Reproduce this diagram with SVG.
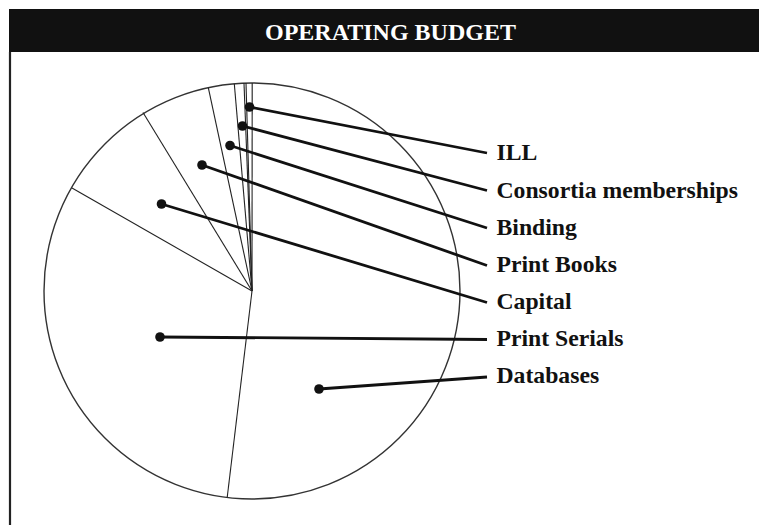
<svg xmlns="http://www.w3.org/2000/svg" width="759" height="525" viewBox="0 0 759 525">
  <style>
    .title { font-family: "Liberation Serif", "Times New Roman", serif; font-weight: bold; font-size: 24px; fill: #ffffff; }
    .label { font-family: "Liberation Serif", "Times New Roman", serif; font-weight: bold; font-size: 23.7px; fill: #111111; }
    .rim { fill: #ffffff; stroke: #333333; stroke-width: 1.4; }
    .edge { stroke: #222222; stroke-width: 1.1; fill: none; }
    .leader { stroke: #111111; stroke-width: 2.8; fill: none; stroke-linecap: butt; }
    .dot { fill: #111111; }
  </style>

  <rect x="0" y="0" width="759" height="525" fill="#ffffff"/>

  <!-- frame: header bar and left rule -->
  <g id="frame">
    <rect x="9" y="9" width="760" height="43" fill="#111111"/>
    <line x1="10" y1="52" x2="10" y2="525" stroke="#222222" stroke-width="2.2"/>
    <text class="title" x="390.5" y="39.5" text-anchor="middle">OPERATING BUDGET</text>
  </g>

  <!-- pie chart -->
  <g id="pie">
    <circle class="rim" cx="252" cy="291" r="208"/>
    <line class="edge" x1="252" y1="291" x2="252.2" y2="83"/>
    <line class="edge" x1="252" y1="291" x2="246" y2="83.1"/>
    <line class="edge" x1="252" y1="291" x2="244" y2="83.2"/>
    <line class="edge" x1="252" y1="291" x2="234.3" y2="83.7"/>
    <line class="edge" x1="252" y1="291" x2="208.3" y2="87.7"/>
    <line class="edge" x1="252" y1="291" x2="143" y2="112.5"/>
    <line class="edge" x1="252" y1="291" x2="72" y2="188"/>
    <line class="edge" x1="252" y1="291" x2="227.2" y2="497.5"/>
  </g>

  <!-- leader lines from slice markers to labels -->
  <g id="connectors">
    <line class="leader" x1="249.5" y1="107" x2="487" y2="153"/>
    <line class="leader" x1="242.5" y1="126" x2="487" y2="190.5"/>
    <line class="leader" x1="230" y1="145.5" x2="487" y2="228"/>
    <line class="leader" x1="202" y1="165" x2="487" y2="265.5"/>
    <line class="leader" x1="161.5" y1="204" x2="487" y2="302.5"/>
    <line class="leader" x1="160" y1="337" x2="487" y2="339.5"/>
    <line class="leader" x1="319" y1="389" x2="487" y2="377"/>
  </g>

  <g id="ill">
    <circle class="dot" cx="249.5" cy="107" r="4.8"/>
    <text class="label" x="496.5" y="160.3">ILL</text>
  </g>
  <g id="consortia">
    <circle class="dot" cx="242.5" cy="126" r="4.8"/>
    <text class="label" x="496.5" y="197.5">Consortia memberships</text>
  </g>
  <g id="binding">
    <circle class="dot" cx="230" cy="145.5" r="4.8"/>
    <text class="label" x="496.5" y="234.5">Binding</text>
  </g>
  <g id="print-books">
    <circle class="dot" cx="202" cy="165" r="4.8"/>
    <text class="label" x="496.5" y="271.7">Print Books</text>
  </g>
  <g id="capital">
    <circle class="dot" cx="161.5" cy="204" r="4.8"/>
    <text class="label" x="496.5" y="308.5">Capital</text>
  </g>
  <g id="print-serials">
    <circle class="dot" cx="160" cy="337" r="4.8"/>
    <text class="label" x="496.5" y="345.5">Print Serials</text>
  </g>
  <g id="databases">
    <circle class="dot" cx="319" cy="389" r="4.8"/>
    <text class="label" x="496.5" y="383.3">Databases</text>
  </g>
</svg>
